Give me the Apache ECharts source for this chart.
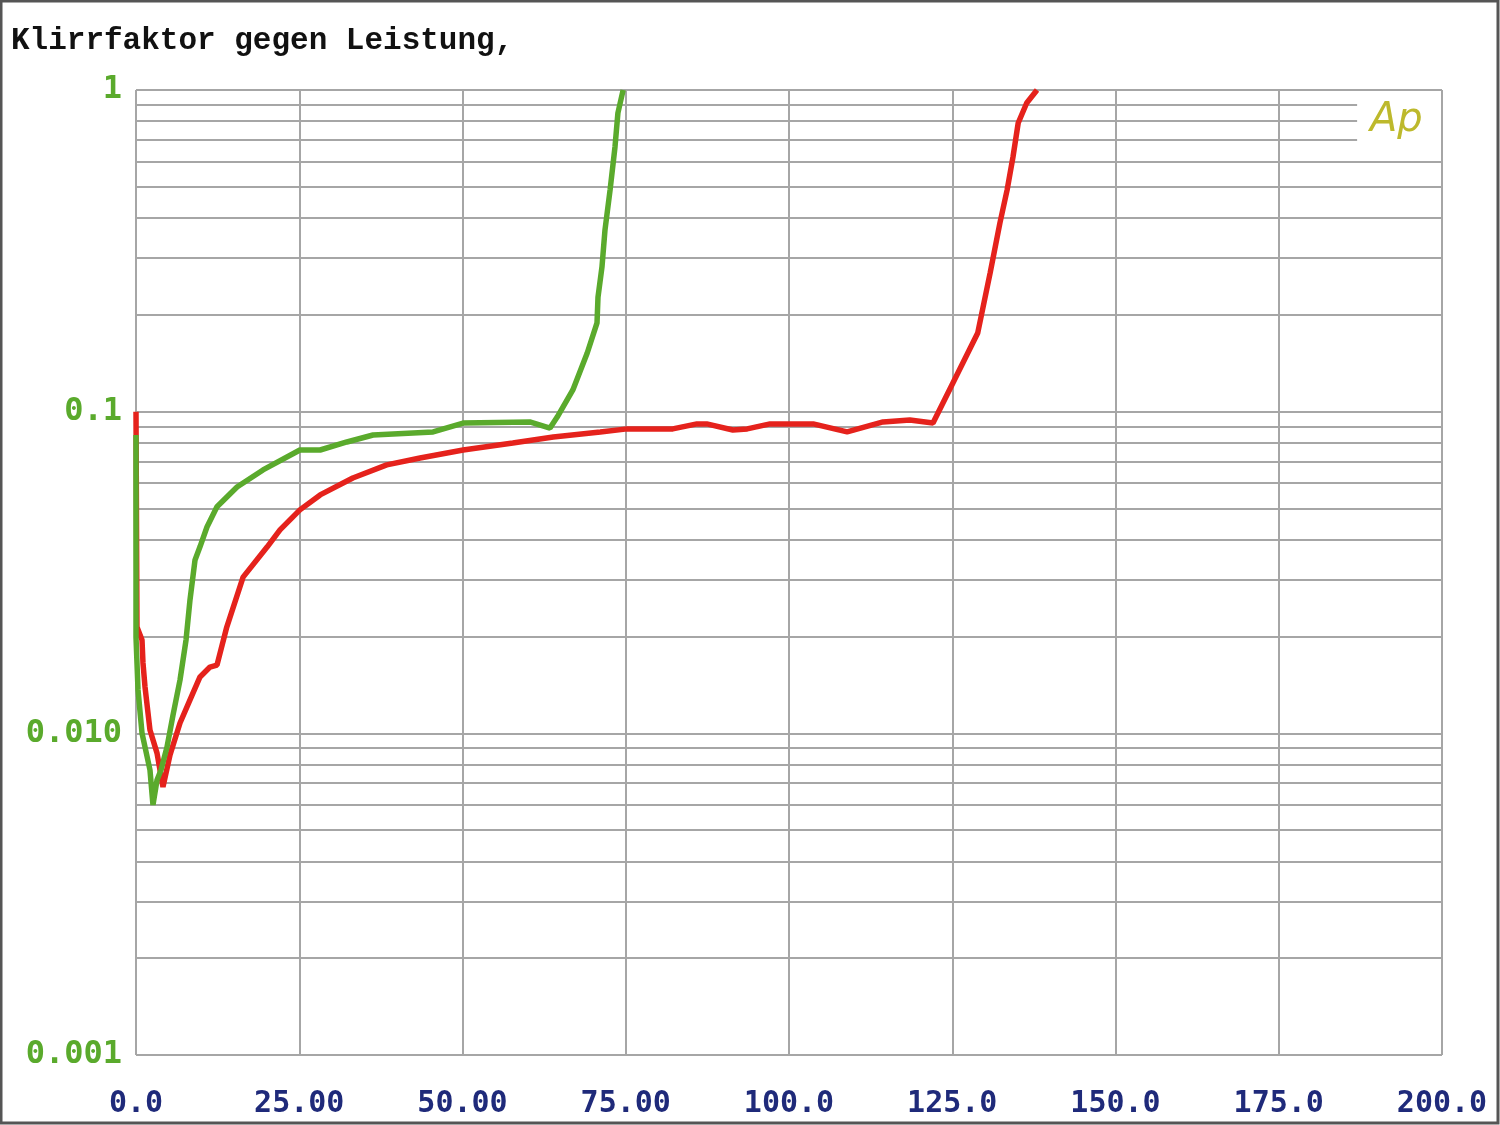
<!DOCTYPE html>
<html>
<head>
<meta charset="utf-8">
<script src="https://cdn.jsdelivr.net/npm/echarts@6/dist/echarts.min.js"></script>
<style>
html,body{margin:0;padding:0;background:#fff;}
#chart{width:1500px;height:1125px;}
</style>
</head>
<body>
<div id="chart"></div>
<script>
// Power (W) vs THD — green curve
const greenX = [0, 0, 0.31, 0.92, 1.38, 2.14, 2.6, 3.22, 3.83, 4.75, 5.67, 6.74, 7.66, 8.27, 9.04, 9.8, 10.87, 12.4, 15.47, 19.45, 25.1, 28.2, 32.3, 36.3, 45.5, 50.1, 60.3, 63.4, 64.5, 66.9, 69.1, 70.6, 70.75, 71.36, 71.82, 72.6, 73.35, 73.8, 74.6];
const greenY = [0.0846, 0.0199, 0.01364, 0.01002, 0.00907, 0.00769, 0.00599, 0.00716, 0.00769, 0.00907, 0.0114, 0.01465, 0.0195, 0.026, 0.0346, 0.038, 0.0438, 0.0506, 0.0583, 0.0659, 0.076, 0.076, 0.0805, 0.0846, 0.0865, 0.0922, 0.0929, 0.0889, 0.0962, 0.1168, 0.1522, 0.1887, 0.2272, 0.2817, 0.3671, 0.4887, 0.6646, 0.8482, 1.0];
// red curve
const redX = [0, 0.15, 0.92, 1.07, 1.38, 2.14, 3.22, 4.13, 5.21, 6.74, 8.27, 9.8, 11.33, 12.4, 13.9, 16.4, 20.1, 22.05, 25.1, 28.2, 33.2, 38.4, 43.5, 50.1, 57.7, 63.9, 71.1, 75.2, 82.2, 85.9, 87.4, 91.4, 93.6, 97.1, 103.7, 108.9, 114.4, 118.5, 122.05, 125.1, 128.9, 130.8, 132.3, 133.4, 134.3, 135.1, 136.4, 137.98];
const redY = [0.1, 0.0214, 0.0195, 0.01655, 0.01393, 0.01024, 0.00868, 0.00681, 0.00857, 0.01077, 0.0127, 0.01497, 0.01607, 0.0163, 0.0214, 0.0306, 0.038, 0.0429, 0.0495, 0.0551, 0.0622, 0.0683, 0.0718, 0.076, 0.0799, 0.0834, 0.0865, 0.0884, 0.0884, 0.0916, 0.0916, 0.0877, 0.0884, 0.0916, 0.0916, 0.0865, 0.0929, 0.0942, 0.0922, 0.1228, 0.1756, 0.2698, 0.386, 0.4888, 0.619, 0.7896, 0.911, 1.0];

const xTickLabels = {0: '0.0', 25: '25.00', 50: '50.00', 75: '75.00', 100: '100.0', 125: '125.0', 150: '150.0', 175: '175.0', 200: '200.0'};
const yTickLabels = {'1': '1', '0.1': '0.1', '0.01': '0.010', '0.001': '0.001'};

const GRID = '#a6a6a6';
const X_MAX = 200;
const LOGO_X = 187; // minor lines near the Ap logo stop here
const minorLines = [];
[0.001, 0.01, 0.1].forEach(d => {
  for (let k = 2; k <= 9; k++) {
    const v = +(d * k).toPrecision(3);
    const end = (d === 0.1 && k >= 7) ? LOGO_X : X_MAX;
    minorLines.push([{coord: [0, v]}, {coord: [end, v]}]);
  }
});

const chart = echarts.init(document.getElementById('chart'), null, {renderer: 'canvas'});
chart.setOption({
  animation: false,
  backgroundColor: '#ffffff',
  title: {
    text: 'Klirrfaktor gegen Leistung,',
    left: 6, top: 21,
    textStyle: {fontFamily: 'Liberation Mono', fontWeight: 'bold', fontSize: 31, color: '#111111'}
  },
  grid: {left: 136, right: 58, top: 90, bottom: 70, containLabel: false},
  xAxis: {
    type: 'value', min: 0, max: X_MAX, interval: 25,
    axisLine: {show: false}, axisTick: {show: false},
    splitLine: {show: true, lineStyle: {color: GRID, width: 2}},
    axisLabel: {
      margin: 34,
      fontFamily: 'DejaVu Sans Mono', fontWeight: 'bold', fontSize: 30, color: '#1f2a7a',
      formatter: v => xTickLabels[v] !== undefined ? xTickLabels[v] : ''
    }
  },
  yAxis: {
    type: 'log', logBase: 10, min: 0.001, max: 1,
    axisLine: {show: false}, axisTick: {show: false},
    splitLine: {show: true, lineStyle: {color: GRID, width: 2}},
    axisLabel: {
      margin: 14,
      fontFamily: 'DejaVu Sans Mono', fontWeight: 'bold', fontSize: 32, color: '#5aaa2c',
      formatter: v => { const k = String(+v.toPrecision(3)); return yTickLabels[k] !== undefined ? yTickLabels[k] : ''; }
    }
  },
  series: [
    {
      name: 'red', type: 'line', showSymbol: false, symbol: 'none',
      data: redX.map((x, i) => [x, redY[i]]),
      lineStyle: {color: '#e5221c', width: 5.5},
      z: 3,
      markLine: {
        silent: true, symbol: ['none', 'none'], label: {show: false},
        lineStyle: {color: GRID, width: 2, type: 'solid'},
        data: minorLines,
        z: 1
      }
    },
    {
      name: 'green', type: 'line', showSymbol: false, symbol: 'none',
      data: greenX.map((x, i) => [x, greenY[i]]),
      lineStyle: {color: '#5aaa2c', width: 5.5},
      z: 4
    }
  ],
  graphic: [
    {type: 'text', left: 1370, top: 101, style: {text: 'Ap', font: 'italic 40px "DejaVu Sans"', fill: '#bdb92c'}, z: 51},
    {type: 'rect', shape: {x: 1, y: 1, width: 1497, height: 1122}, style: {fill: 'none', stroke: '#555555', lineWidth: 3}, z: 60}
  ]
});
</script>
</body>
</html>
